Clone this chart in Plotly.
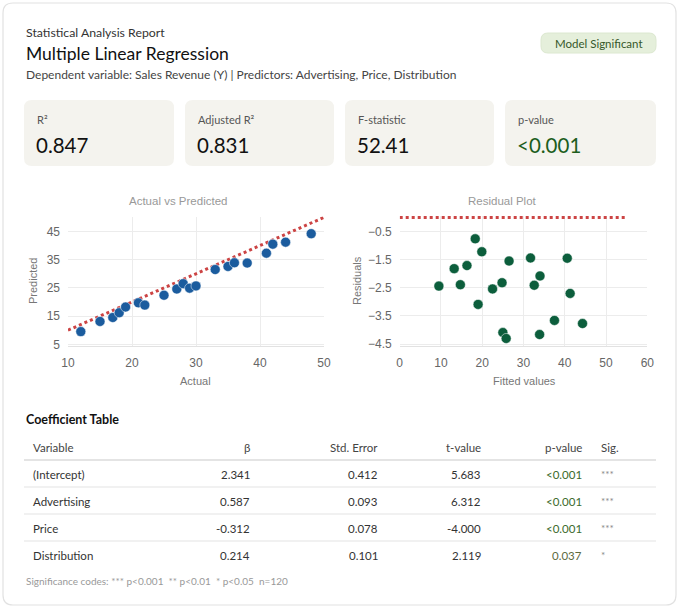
import plotly.graph_objects as go

W, H = 680, 608

# ---------------- data ----------------
actual = [12, 15, 17, 18, 19, 21, 22, 25, 27, 28, 29, 30, 33, 35, 36, 38, 41, 42, 44, 48]
predicted = [9.5, 13.1, 14.5, 16.2, 18.2, 19.7, 18.9, 22.4, 24.6, 26.5, 24.9, 25.7, 31.5, 32.6, 33.9, 33.8, 37.3, 40.5, 41.2, 44.2]
fitted = [9.5, 13.2, 14.7, 16.3, 18.3, 19.9, 19.0, 22.5, 24.8, 26.5, 25.0, 25.8, 31.7, 32.6, 34.0, 33.9, 37.5, 40.6, 41.3, 44.3]
residuals = [-2.44, -1.82, -2.39, -1.71, -0.76, -1.22, -3.09, -2.54, -2.32, -1.55, -4.09, -4.30, -1.44, -2.41, -2.08, -4.16, -3.66, -1.45, -2.70, -3.77]

ref_x = [10, 50]
ref_y = [10, 50]
zero_x = [0, 55]
zero_y = [0, 0]

kpi_labels = ["R²", "Adjusted R²", "F-statistic", "p-value"]
kpi_values = ["0.847", "0.831", "52.41", "<0.001"]

table_headers = ["Variable", "β", "Std. Error", "t-value", "p-value", "Sig."]
variables = ["(Intercept)", "Advertising", "Price", "Distribution"]
betas = ["2.341", "0.587", "-0.312", "0.214"]
std_errors = ["0.412", "0.093", "0.078", "0.101"]
t_values = ["5.683", "6.312", "-4.000", "2.119"]
p_values = ["<0.001", "<0.001", "<0.001", "0.037"]
sig_codes = ["***", "***", "***", "*"]

# ---------------- helpers ----------------
def px(x):
    return x / W

def py(y):
    return 1 - y / H

def rrect(x0, y0, x1, y1, r):
    rx, ry = r / W, r / H
    X0, X1 = px(x0), px(x1)
    Y0, Y1 = py(y0), py(y1)  # Y0 top (larger), Y1 bottom
    return (f"M {X0+rx},{Y0} L {X1-rx},{Y0} Q {X1},{Y0} {X1},{Y0-ry} "
            f"L {X1},{Y1+ry} Q {X1},{Y1} {X1-rx},{Y1} L {X0+rx},{Y1} "
            f"Q {X0},{Y1} {X0},{Y1+ry} L {X0},{Y0-ry} Q {X0},{Y0} {X0+rx},{Y0} Z")

UI = "Lato, 'Noto Sans', sans-serif"
CH = "'Liberation Sans', Arial, sans-serif"

shapes = []
ann = []

def text(x, y, s, size, color, anchor="left", font=UI, bold=False, angle=0):
    if bold:
        s = f"<b>{s}</b>"
    ann.append(dict(x=px(x), y=py(y), xref="paper", yref="paper", text=s,
                    showarrow=False, xanchor=anchor, yanchor="middle", textangle=angle,
                    font=dict(family=font, size=size, color=color)))

# outer card
shapes.append(dict(type="path", path=rrect(3, 3, 676, 605, 10), xref="paper", yref="paper",
                   fillcolor="white", line=dict(color="#e2e2e2", width=1.2), layer="below"))

# header
text(24, 33, "Statistical Analysis Report", 12.3, "#333333")
text(24, 54, "Multiple Linear Regression", 17.5, "#111111")
text(24, 75, "Dependent variable: Sales Revenue (Y) | Predictors: Advertising, Price, Distribution", 12, "#444444")

# badge
shapes.append(dict(type="path", path=rrect(541, 33, 656, 53, 7), xref="paper", yref="paper",
                   fillcolor="#e5efdb", line=dict(color="#dce8d0", width=1), layer="below"))
text(598.5, 43.5, "Model Significant", 11.5, "#35582a", anchor="center")

# KPI cards
card_x = [24, 185, 345, 505]
card_w = [150, 149, 149, 151]
for i, (lab, val) in enumerate(zip(kpi_labels, kpi_values)):
    x0 = card_x[i]
    shapes.append(dict(type="path", path=rrect(x0, 100, x0 + card_w[i], 166, 8), xref="paper", yref="paper",
                       fillcolor="#f4f3ee", line=dict(width=0), layer="below"))
    text(x0 + 11, 119, lab, 11, "#555555")
    text(x0 + 10, 145, val, 20.5, "#1d5e1d" if lab == "p-value" else "#111111")

# ---------------- charts ----------------
fig = go.Figure()

fig.add_trace(go.Scatter(x=ref_x, y=ref_y, mode="lines", xaxis="x", yaxis="y",
                         line=dict(color="#cc4444", width=3, dash="dot"), hoverinfo="skip"))
fig.add_trace(go.Scatter(x=actual, y=predicted, mode="markers", xaxis="x", yaxis="y",
                         marker=dict(size=10, color="#1b5c9e", line=dict(color="rgba(255,255,255,0.5)", width=1))))
fig.add_trace(go.Scatter(x=zero_x, y=zero_y, mode="lines", xaxis="x2", yaxis="y2",
                         line=dict(color="#cc4444", width=3, dash="dot"), hoverinfo="skip"))
fig.add_trace(go.Scatter(x=fitted, y=residuals, mode="markers", xaxis="x2", yaxis="y2",
                         marker=dict(size=10, color="#0c5e3c", line=dict(color="rgba(255,255,255,0.5)", width=1))))

axis_common = dict(showgrid=True, gridcolor="#ececec", gridwidth=1, zeroline=False, automargin=False,
                   tickfont=dict(family=CH, size=12, color="#666666"), ticks="")

fig.update_layout(
    xaxis=dict(domain=[px(68), px(324)], range=[10, 50], tick0=10, dtick=10, anchor="y",
               showline=True, linecolor="#e2e2e2", ticklabelstandoff=6, **axis_common),
    yaxis=dict(domain=[py(346), py(216.5)], range=[4.4, 50.3], tick0=5, dtick=10, anchor="x",
               showline=False, ticklabelstandoff=7, **axis_common),
    xaxis2=dict(domain=[px(399.7), px(647.3)], range=[0, 60], tick0=0, dtick=10, anchor="y2",
                showline=True, linecolor="#e2e2e2", ticklabelstandoff=6, **axis_common),
    yaxis2=dict(domain=[py(345.5), py(216)], range=[-4.55, 0.05], tick0=-0.5, dtick=1, anchor="x2",
                showline=False, ticklabelstandoff=7, **axis_common),
)

text(178, 201, "Actual vs Predicted", 11.5, "#999999", anchor="center", font=CH)
text(502, 201, "Residual Plot", 11.5, "#999999", anchor="center", font=CH)
text(196, 381, "Actual", 11, "#777777", anchor="center", font=CH)
text(524, 381, "Fitted values", 11, "#777777", anchor="center", font=CH)
text(33, 281, "Predicted", 11, "#777777", anchor="center", font=CH, angle=-90)
text(357, 281, "Residuals", 11, "#777777", anchor="center", font=CH, angle=-90)

# ---------------- coefficient table ----------------
text(24, 419, "Coefficient Table", 12.5, "#111111", bold=True)

col_x = [31, 252, 380, 483, 584, 599]
col_anchor = ["left", "right", "right", "right", "right", "left"]
header_y = 447
row_y = [474, 501, 528, 555]

for j, h in enumerate(table_headers):
    text(col_x[j], header_y, h, 11.5, "#444444", anchor=col_anchor[j])

shapes.append(dict(type="line", xref="paper", yref="paper", x0=px(24), x1=px(656),
                   y0=py(460), y1=py(460), line=dict(color="#e4e4e4", width=2)))
for yl in [487, 514, 541]:
    shapes.append(dict(type="line", xref="paper", yref="paper", x0=px(24), x1=px(656),
                       y0=py(yl), y1=py(yl), line=dict(color="#ececec", width=1.5)))

for i in range(len(variables)):
    y = row_y[i]
    text(col_x[0], y, variables[i], 11.5, "#333333", anchor="left")
    text(col_x[1], y, betas[i], 11.5, "#333333", anchor="right")
    text(col_x[2], y, std_errors[i], 11.5, "#333333", anchor="right")
    text(col_x[3], y, t_values[i], 11.5, "#333333", anchor="right")
    pc = "#3b6b2c" if p_values[i].startswith("<") else "#5d6a3e"
    text(col_x[4], y, p_values[i], 11.5, pc, anchor="right")
    text(col_x[5], y, sig_codes[i], 10, "#888888", anchor="left")

text(24, 581, "Significance codes: *** p&lt;0.001  ** p&lt;0.01  * p&lt;0.05  n=120", 10, "#999999")

fig.update_layout(
    width=W, height=H, margin=dict(l=0, r=0, t=0, b=0, autoexpand=False),
    paper_bgcolor="white", plot_bgcolor="white", showlegend=False,
    shapes=shapes, annotations=ann,
)

fig.write_html("out.html", config={"displayModeBar": False})
